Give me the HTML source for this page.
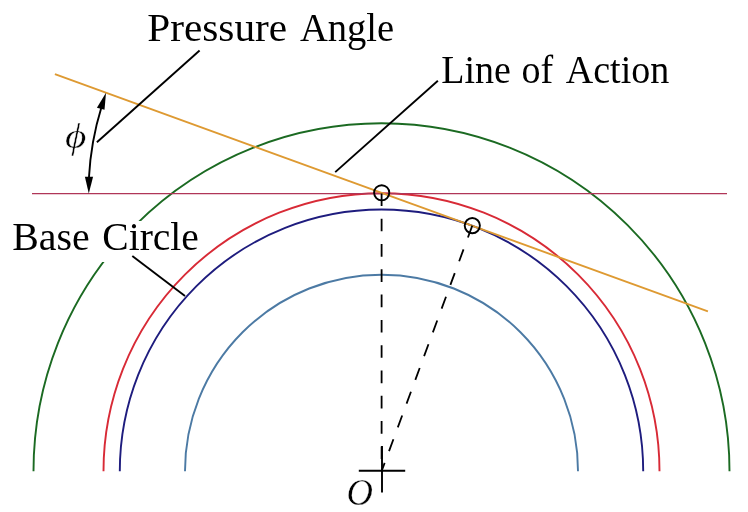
<!DOCTYPE html>
<html>
<head>
<meta charset="utf-8">
<style>
html,body{margin:0;padding:0;background:#fff;width:748px;height:512px;overflow:hidden;}
svg{display:block;will-change:transform;}
text{font-family:"Liberation Serif", serif;fill:#000;}
</style>
</head>
<body>
<svg width="748" height="512" viewBox="0 0 748 512">
<g fill="none" stroke-width="1.9">
<!-- addendum circle (green) -->
<path d="M33.5 471.2 A348 348 0 0 1 729.5 471.2" stroke="#1b6a22"/>
</g>
<!-- white box behind Base Circle label -->
<rect x="8" y="221" width="190" height="41" fill="#fff"/>
<g fill="none" stroke-width="1.9">
<!-- dedendum (light blue) -->
<path d="M185 471.2 A196.5 196.5 0 0 1 578 471.2" stroke="#4c7aa4"/>
<!-- base circle (navy) -->
<path d="M119.8 471.2 A261.7 261.7 0 0 1 643.2 471.2" stroke="#1e1c7e"/>
<!-- pitch circle (red) -->
<path d="M103.5 471.2 A278 278 0 0 1 659.5 471.2" stroke="#d82a36"/>
<!-- horizontal pitch tangent -->
<path d="M32 193.6 H727" stroke="#b03658" stroke-width="1.45"/>
<!-- line of action (orange) -->
<path d="M54.9 74.1 L707.9 311.4" stroke="#de9a32"/>
<!-- dashed radii -->
<path d="M381.6 193.4 V471.2" stroke="#000" stroke-dasharray="12.65 12.65" stroke-width="1.8"/>
<path d="M472.3 225.6 L381.6 471.2" stroke="#000" stroke-dasharray="12.65 12.65" stroke-width="1.8"/>
<!-- point markers -->
<circle cx="381.7" cy="192.8" r="7.6" stroke="#000" stroke-width="1.9"/>
<circle cx="472.3" cy="225.6" r="7.6" stroke="#000" stroke-width="1.9"/>
<!-- center cross -->
<path d="M358.8 470.8 H405.2 M382 446 V492.5" stroke="#000" stroke-width="1.9"/>
<!-- leaders -->
<path d="M199.6 50.5 L96.9 142.2" stroke="#000" stroke-width="1.9"/>
<path d="M437.9 80.8 L335.2 172.1" stroke="#000" stroke-width="1.9"/>
<path d="M132.3 256.1 L185 295.9" stroke="#000" stroke-width="1.9"/>
<!-- angle arc -->
<path d="M101.5 107 A292.9 292.9 0 0 0 88.9 178" stroke="#000" stroke-width="1.9"/>
</g>
<!-- arrowheads -->
<path d="M88.8 193.4 L84.9 176.8 L93.1 176.8 Z" fill="#000"/>
<path d="M106 92.8 L96.9 107.7 L104.5 109.8 Z" fill="#000"/>
<!-- labels -->
<text x="147.15" y="40.5" font-size="39.2" textLength="140.08" lengthAdjust="spacingAndGlyphs">Pressure</text>
<text x="299.9" y="40.5" font-size="39.2" textLength="94.3" lengthAdjust="spacingAndGlyphs">Angle</text>
<text x="441.24" y="82.6" font-size="39.2" textLength="69.56" lengthAdjust="spacingAndGlyphs">Line</text>
<text x="521.46" y="82.6" font-size="39.2" textLength="31.67" lengthAdjust="spacingAndGlyphs">of</text>
<text x="565.8" y="82.6" font-size="39.2" textLength="103.44" lengthAdjust="spacingAndGlyphs">Action</text>
<text x="12.19" y="250.1" font-size="39.2" textLength="77.43" lengthAdjust="spacingAndGlyphs">Base</text>
<text x="102.3" y="250.1" font-size="39.2" textLength="96.6" lengthAdjust="spacingAndGlyphs">Circle</text>
<text x="0" y="0" font-size="36" font-style="italic" stroke="#fff" stroke-width="0.45" transform="translate(65 147.6) scale(1.15 1)">&#x3d5;</text>
<text x="0" y="0" font-size="38.2" font-style="italic" stroke="#fff" stroke-width="0.35" transform="translate(346.6 505) scale(0.96 1)">O</text>
</svg>
</body>
</html>
